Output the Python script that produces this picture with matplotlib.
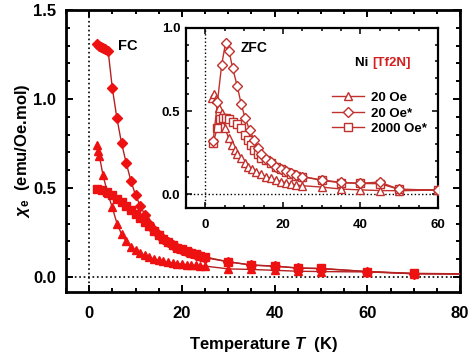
import matplotlib
matplotlib.use("Agg")
import matplotlib.pyplot as plt
from matplotlib.ticker import MultipleLocator

# ---- FC data (main panel, filled markers) ----
fc_20_T = [1.8, 2.0, 2.2, 3.0, 4.0, 5.0, 6.0, 7.0, 8.0, 9.0, 10, 11, 12, 13, 14, 15, 16,
           17, 18, 19, 20, 21, 22, 23, 24, 25, 30, 35, 40, 45, 50, 60, 70, 90]
fc_20_chi = [0.74, 0.71, 0.68, 0.57, 0.47, 0.39, 0.30, 0.24, 0.20, 0.17, 0.15, 0.135, 0.122,
             0.11, 0.10, 0.094, 0.088, 0.083, 0.079, 0.075, 0.072, 0.069, 0.067, 0.065, 0.063,
             0.061, 0.045, 0.042, 0.037, 0.032, 0.03, 0.028, 0.018, 0.015]

fc_20s_T = [1.8, 2.2, 2.6, 3.0, 3.5, 4.1, 5.0, 6.0, 7.0, 8.0, 9.0, 10, 11, 12, 13, 14, 15,
            16, 17, 18, 19, 20, 21, 22, 23, 24, 25, 30, 35, 40, 45, 50, 60, 70, 90]
fc_20s_chi = [1.31, 1.30, 1.29, 1.285, 1.28, 1.27, 1.06, 0.89, 0.75, 0.64, 0.54, 0.46, 0.40,
              0.35, 0.30, 0.265, 0.235, 0.212, 0.195, 0.18, 0.165, 0.152, 0.142, 0.132, 0.124,
              0.116, 0.108, 0.085, 0.066, 0.06, 0.05, 0.046, 0.03, 0.018, 0.015]

fc_2000_T = [1.7, 2.7, 3.8, 5, 6, 7, 8, 9, 10, 11, 12, 13, 14, 15, 16, 17, 18, 19, 20, 21,
             22, 23, 24, 25, 30, 35, 40, 45, 50, 60, 70, 90]
fc_2000_chi = [0.495, 0.49, 0.477, 0.46, 0.44, 0.42, 0.40, 0.375, 0.355, 0.33, 0.31, 0.285,
               0.26, 0.235, 0.215, 0.195, 0.18, 0.165, 0.155, 0.145, 0.135, 0.128, 0.12,
               0.112, 0.085, 0.067, 0.061, 0.05, 0.048, 0.03, 0.02, 0.015]

# ---- ZFC data (inset, open markers) ----
zfc_20_T = [1.8, 2.2, 2.6, 3.5, 4.3, 5.1, 6.0, 6.8, 7.5, 8.2, 9.1, 10.1, 10.9, 12.0, 13.1,
            14.4, 15.6, 16.9, 18.2, 19.5, 20.8, 22.0, 23.3, 25, 30, 35, 40, 45, 50, 60]
zfc_20_chi = [0.58, 0.60, 0.57, 0.52, 0.485, 0.395, 0.335, 0.295, 0.265, 0.24, 0.215, 0.185,
              0.165, 0.15, 0.135, 0.12, 0.105, 0.095, 0.085, 0.075, 0.068, 0.06, 0.055, 0.05,
              0.042, 0.03, 0.025, 0.021, 0.02, 0.024]

zfc_20s_T = [2.0, 3.1, 4.2, 5.2, 6.1, 7.0, 8.2, 9.2, 10.2, 11.4, 12.6, 13.5, 14.4, 15.6, 16.9,
             18.2, 19.5, 20.8, 22.0, 23.3, 25, 30, 35, 40, 45, 50, 60]
zfc_20s_chi = [0.32, 0.555, 0.78, 0.91, 0.86, 0.76, 0.65, 0.545, 0.46, 0.385, 0.325, 0.275,
               0.24, 0.21, 0.19, 0.165, 0.15, 0.138, 0.125, 0.113, 0.105, 0.085, 0.07, 0.065,
               0.072, 0.028, 0.024]

zfc_2000_T = [2.0, 3.1, 3.8, 4.6, 5.3, 6.2, 7.2, 8.2, 9.1, 10.1, 10.9, 11.8, 12.6, 13.5, 14.4,
              15.6, 16.9, 18.2, 19.5, 20.8, 22.0, 23.3, 25, 30, 35, 40, 45, 50, 60]
zfc_2000_chi = [0.31, 0.40, 0.45, 0.455, 0.455, 0.45, 0.435, 0.42, 0.395, 0.355, 0.325, 0.295,
                0.265, 0.24, 0.22, 0.205, 0.185, 0.16, 0.15, 0.135, 0.12, 0.11, 0.105, 0.082,
                0.068, 0.064, 0.062, 0.028, 0.024]

legend_labels = ["20 Oe", "20 Oe*", "2000 Oe*"]

MARK = "#ee1111"
LINE = "#b52020"
OPEN = "#c0302c"

plt.rcParams["font.family"] = ["Liberation Sans", "DejaVu Sans"]
plt.rcParams["font.weight"] = "bold"
plt.rcParams["mathtext.fontset"] = "custom"
plt.rcParams["mathtext.it"] = "Liberation Sans:italic:bold"
plt.rcParams["mathtext.rm"] = "Liberation Sans:bold"


def style_axes(ax, lw, fs, maj_len, min_len, xpad, ypad):
    for s in ax.spines.values():
        s.set_linewidth(lw)
    ax.tick_params(which="both", direction="in", top=True, right=True, width=lw * 0.7,
                   labelsize=fs)
    ax.tick_params(which="major", length=maj_len)
    ax.tick_params(which="minor", length=min_len)
    ax.tick_params(axis="x", pad=xpad)
    ax.tick_params(axis="y", pad=ypad)
    for lab in ax.get_xticklabels() + ax.get_yticklabels():
        lab.set_fontweight("bold")


fig = plt.figure(figsize=(4.71, 3.54), dpi=100)
ax = fig.add_axes([0.140, 0.175, 0.837, 0.797])

ax.axhline(0, color="black", ls=":", lw=1.2, zorder=1)
ax.axvline(0, color="black", ls=":", lw=1.2, zorder=1)

ax.plot(fc_2000_T, fc_2000_chi, "-s", color=LINE, mfc=MARK, mec=MARK, ms=5.5, lw=1, zorder=3)
ax.plot(fc_20_T, fc_20_chi, "-^", color=LINE, mfc=MARK, mec=MARK, ms=6, lw=1, zorder=3)
ax.plot(fc_20s_T, fc_20s_chi, "-D", color=LINE, mfc=MARK, mec=MARK, ms=5, lw=1, zorder=3)

ax.set_xlim(-5, 80)
ax.set_ylim(-0.085, 1.5)
ax.xaxis.set_major_locator(MultipleLocator(20))
ax.xaxis.set_minor_locator(MultipleLocator(5))
ax.yaxis.set_major_locator(MultipleLocator(0.5))
ax.yaxis.set_minor_locator(MultipleLocator(0.1))
style_axes(ax, 2.0, 12, 5, 3, 10, 7)

ax.set_xlabel(r"Temperature $T$  (K)", fontsize=12, fontweight="bold", labelpad=10)
ax.set_ylabel(r"$\chi_{\mathrm{e}}$  (emu/Oe.mol)", fontsize=12, fontweight="bold", labelpad=1)
ax.text(6.2, 1.30, "FC", fontsize=10.5, fontweight="bold", va="center", ha="left")

# ---- inset ----
ins = fig.add_axes([0.395, 0.412, 0.535, 0.509])
ins.axhline(0, color="black", ls=":", lw=1.0, zorder=1)
ins.axvline(0, color="black", ls=":", lw=1.0, zorder=1)

kw = dict(color=OPEN, mfc="white", mec=OPEN, mew=1.0, lw=1, zorder=3)
l1, = ins.plot(zfc_20_T, zfc_20_chi, "-^", ms=5.5, **kw)
l3, = ins.plot(zfc_2000_T, zfc_2000_chi, "-s", ms=5.5, **kw)
l2, = ins.plot(zfc_20s_T, zfc_20s_chi, "-D", ms=5, **kw)

ins.set_xlim(-5, 60)
ins.set_ylim(-0.085, 1.0)
ins.xaxis.set_major_locator(MultipleLocator(20))
ins.xaxis.set_minor_locator(MultipleLocator(5))
ins.yaxis.set_major_locator(MultipleLocator(0.5))
ins.yaxis.set_minor_locator(MultipleLocator(0.1))
style_axes(ins, 1.6, 9.5, 4, 2, 8, 4)

ins.text(9.2, 0.88, "ZFC", fontsize=10, fontweight="bold", va="center", ha="left")
ni = ins.text(38.7, 0.79, "Ni ", fontsize=9.5, fontweight="bold", va="center", ha="left")
ins.annotate("[Tf2N]", xy=(1, 0.5), xycoords=ni, fontsize=9.5, fontweight="bold",
             va="center", ha="left", color="#d42020")

leg = ins.legend([l1, l2, l3], legend_labels, loc="upper left", bbox_to_anchor=(0.56, 0.675),
                 frameon=False, fontsize=9.5, handlelength=2.4, handletextpad=0.5,
                 labelspacing=0.25, borderaxespad=0)
for t in leg.get_texts():
    t.set_fontweight("bold")

fig.savefig("out.png", dpi=100)
